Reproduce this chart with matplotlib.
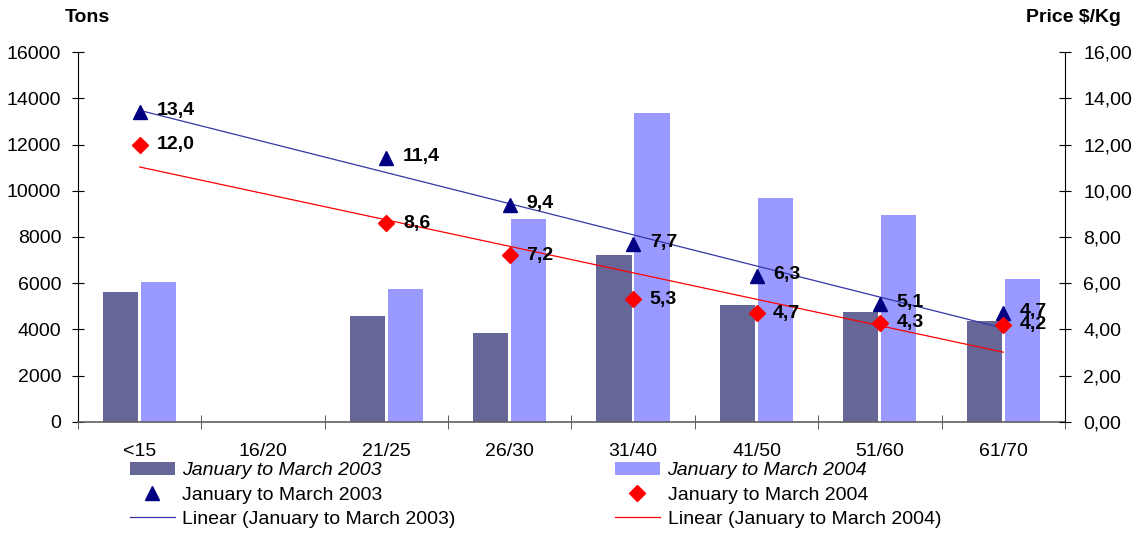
import numpy as np
import matplotlib.pyplot as plt
from matplotlib.ticker import FuncFormatter

# size classes on the x axis
sizes = ["<15", "16/20", "21/25", "26/30", "31/40", "41/50", "51/60", "61/70"]

# tons landed, Jan-Mar
tons_2003 = [5600, 0, 4600, 3850, 7200, 5050, 4750, 4350]
tons_2004 = [6050, 0, 5750, 8800, 13350, 9700, 8950, 6200]

# average price $/Kg (no price for 16/20)
price_2003 = [13.4, np.nan, 11.4, 9.4, 7.7, 6.3, 5.1, 4.7]
price_2004 = [12.0, np.nan, 8.6, 7.2, 5.3, 4.7, 4.3, 4.2]

lbl_03 = "January to March 2003"
lbl_04 = "January to March 2004"

plt.rcParams['font.family'] = ['Liberation Sans', 'DejaVu Sans']
FS = 14

fig = plt.figure(figsize=(11.4, 5.33), dpi=100)
ax = fig.add_axes([0.0684, 0.2083, 0.8658, 0.6941])
ax2 = ax.twinx()

x = np.arange(len(sizes))
w = 0.285
b1 = ax.bar(x - 0.155, tons_2003, w, color="#666699", label=lbl_03)
b2 = ax.bar(x + 0.153, tons_2004, w, color="#9999FF", label=lbl_04)

ax.set_xlim(-0.5, len(sizes) - 0.5)
ax.set_ylim(0, 16000)
ax.set_yticks(range(0, 16001, 2000))
ax.set_xticks(x)
ax.set_xticklabels(sizes)
ax.set_xticks(np.arange(-0.5, len(sizes)), minor=True)
ax.tick_params(axis="x", which="major", length=0, pad=15, labelsize=FS)
ax.tick_params(axis="x", which="minor", length=10, direction="inout", color="#404040")
ax.tick_params(axis="y", length=8, direction="inout", labelsize=FS, pad=8)
for s in ["top", "right"]:
    ax.spines[s].set_visible(False)
ax.spines["bottom"].set_color("#606060")
ax.spines["bottom"].set_linewidth(1.2)

# prices and their linear trends on the right axis
ax2.set_ylim(0, 16)
ax2.set_yticks(range(0, 17, 2))
ax2.yaxis.set_major_formatter(FuncFormatter(lambda v, p: f"{v:.2f}".replace(".", ",")))
ax2.tick_params(axis="y", length=8, direction="inout", labelsize=FS, pad=9)
for s in ["top", "left", "bottom"]:
    ax2.spines[s].set_visible(False)

p03 = np.array(price_2003)
p04 = np.array(price_2004)
ok = ~np.isnan(p03)
f03 = np.polyfit(x[ok], p03[ok], 1)
f04 = np.polyfit(x[ok], p04[ok], 1)
xt = np.array([x[0], x[-1]])
l1, = ax2.plot(xt, np.polyval(f03, xt), color="#3535a8", lw=0.9, label="Linear (" + lbl_03 + ")")
l2, = ax2.plot(xt, np.polyval(f04, xt), color="#ff0000", lw=0.9, label="Linear (" + lbl_04 + ")")

m1, = ax2.plot(x, p03, "^", color="#000080", ms=10.5, ls="none", label=lbl_03)
m2, = ax2.plot(x, p04, "D", color="#ff0000", ms=8, ls="none", label=lbl_04)

for xi, v in zip(x, price_2003):
    if not np.isnan(v):
        ax2.annotate(f"{v:.1f}".replace(".", ","), (xi, v), xytext=(12, 1),
                     textcoords="offset points", va="center", fontsize=FS, fontweight="bold")
for xi, v in zip(x, price_2004):
    if not np.isnan(v):
        ax2.annotate(f"{v:.1f}".replace(".", ","), (xi, v), xytext=(12, 0),
                     textcoords="offset points", va="center", fontsize=FS, fontweight="bold")

fig.text(0.057, 0.958, "Tons", fontsize=FS, fontweight="bold")
fig.text(0.983, 0.958, "Price $/Kg", fontsize=FS, fontweight="bold", ha="right")

leg_kw = dict(frameon=False, fontsize=FS, handlelength=2.3, handletextpad=0.4,
              labelspacing=0.35, borderaxespad=0, borderpad=0)
leg1 = fig.legend([b1, m1, l1], [lbl_03, lbl_03, "Linear (" + lbl_03 + ")"],
                  loc="upper left", bbox_to_anchor=(0.114, 0.134), **leg_kw)
leg2 = fig.legend([b2, m2, l2], [lbl_04, lbl_04, "Linear (" + lbl_04 + ")"],
                  loc="upper left", bbox_to_anchor=(0.5395, 0.134), **leg_kw)
for lg in (leg1, leg2):
    lg.get_texts()[0].set_fontstyle("italic")

fig.savefig("out.png", dpi=100)
